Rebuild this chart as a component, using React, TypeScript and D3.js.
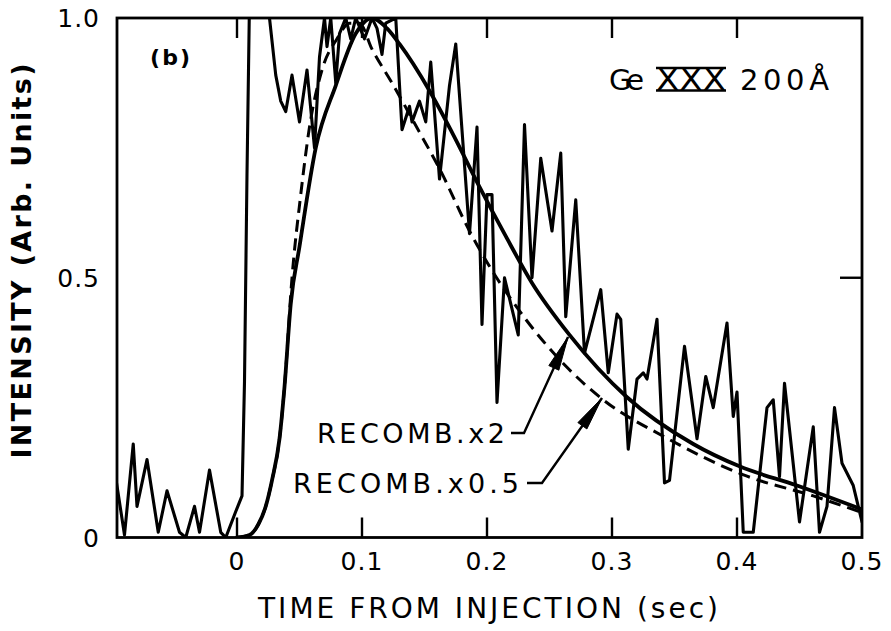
import React from "react";
import * as d3 from "d3";

// ---------- data ----------
const noisyT = [-0.097,-0.09,-0.083,-0.08,-0.072,-0.063,-0.056,-0.046,-0.041,-0.034,-0.03,-0.022,-0.013,-0.009,-0.001,0.004,0.006,0.008,0.011,0.02,0.026,0.031,0.035,0.039,0.044,0.05,0.056,0.062,0.066,0.07,0.072,0.075,0.079,0.082,0.087,0.091,0.095,0.102,0.108,0.112,0.116,0.119,0.127,0.132,0.138,0.14,0.146,0.151,0.155,0.162,0.17,0.175,0.186,0.192,0.196,0.2,0.204,0.208,0.214,0.225,0.23,0.236,0.243,0.252,0.259,0.263,0.271,0.278,0.291,0.297,0.304,0.307,0.313,0.32,0.325,0.328,0.336,0.342,0.346,0.358,0.368,0.375,0.381,0.392,0.397,0.4,0.405,0.413,0.424,0.429,0.434,0.438,0.45,0.461,0.466,0.472,0.478,0.484,0.493,0.5];
const noisyV = [0.115,0.005,0.18,0.06,0.15,0.01,0.09,0.01,0.0,0.06,0.01,0.13,0.01,0.0,0.05,0.08,0.3,0.7,1.2,1.3,1.0,0.89,0.84,0.82,0.89,0.8,0.9,0.75,0.925,1.0,0.945,1.0,0.875,0.97,1.0,0.96,1.0,0.96,1.0,0.98,0.93,0.99,1.0,0.785,0.83,0.8,0.84,0.8,0.915,0.69,0.87,0.95,0.585,0.79,0.41,0.66,0.66,0.26,0.5,0.39,0.795,0.5,0.73,0.59,0.74,0.425,0.65,0.355,0.477,0.317,0.43,0.42,0.17,0.305,0.317,0.305,0.42,0.105,0.11,0.368,0.19,0.31,0.25,0.413,0.233,0.28,0.01,0.01,0.25,0.265,0.117,0.297,0.03,0.213,0.01,0.06,0.25,0.143,0.1,0.03];

const x2T = [0.0,0.01,0.017,0.023,0.028,0.034,0.038,0.043,0.05,0.063,0.079,0.095,0.108,0.12,0.13,0.154,0.172,0.194,0.215,0.236,0.266,0.312,0.365,0.402,0.448,0.5];
const x2V = [0.0,0.005,0.025,0.06,0.11,0.19,0.29,0.45,0.56,0.75,0.87,0.97,1.0,0.98,0.95,0.86,0.78,0.675,0.58,0.49,0.39,0.27,0.18,0.137,0.1,0.054];

const x05T = [0.0,0.01,0.017,0.023,0.028,0.034,0.038,0.044,0.051,0.058,0.068,0.08,0.09,0.098,0.108,0.124,0.146,0.162,0.186,0.2,0.231,0.263,0.293,0.341,0.408,0.461,0.5];
const x05V = [0.0,0.005,0.025,0.06,0.11,0.19,0.29,0.5,0.66,0.79,0.9,0.96,0.99,0.99,0.94,0.875,0.78,0.71,0.59,0.53,0.42,0.33,0.265,0.195,0.118,0.08,0.048];

const xTickVals = [0, 0.1, 0.2, 0.3, 0.4, 0.5];
const xTickLabels = ["0", "0.1", "0.2", "0.3", "0.4", "0.5"];
const yTickVals = [0, 0.5, 1.0];
const yTickLabels = ["0", "0.5", "1.0"];
const bottomInnerTicks = [0, 0.1, 0.2, 0.3, 0.4];
const topInnerTicks = [0, 0.1, 0.2, 0.3, 0.4];
const rightInnerTicks = [0.5];

const annotations = [
  { label: "RECOMB.x2", tipT: 0.2648, tipV: 0.386 },
  { label: "RECOMB.x0.5", tipT: 0.292, tipV: 0.2685 },
];

const FONT = "'DejaVu Sans', 'Liberation Sans', Arial, sans-serif";

export default function App() {
  const W = 891, H = 631;
  const left = 117, right = 862, top = 18, bottom = 537.5;
  const x = d3.scaleLinear().domain([-0.096, 0.5]).range([left, right]);
  const y = d3.scaleLinear().domain([0, 1]).range([bottom, top]);

  const noisy = noisyT.map((t, i) => [t, noisyV[i]] as [number, number]);
  const c2 = x2T.map((t, i) => [t, x2V[i]] as [number, number]);
  const c05 = x05T.map((t, i) => [t, x05V[i]] as [number, number]);

  const linePlain = d3.line<[number, number]>().x(d => x(d[0])).y(d => y(d[1]));
  const lineSmooth = d3.line<[number, number]>().x(d => x(d[0])).y(d => y(d[1])).curve(d3.curveMonotoneX);

  const ann = [
    { textEnd: 505, textStart: 317, baseY: 443, midY: 433, dashFrom: 511, dashTo: 524 },
    { textEnd: 519, textStart: 293, baseY: 493, midY: 483, dashFrom: 527, dashTo: 542 },
  ];

  const arrow = (x0: number, y0: number, x1: number, y1: number) => {
    const dx = x1 - x0, dy = y1 - y0;
    const L = Math.hypot(dx, dy);
    const ux = dx / L, uy = dy / L;
    const hl = 34, hw = 5.5;
    const bx = x1 - ux * hl, by = y1 - uy * hl;
    const px = -uy, py = ux;
    return `M${x1},${y1}L${bx + px * hw},${by + py * hw}L${bx - px * hw},${by - py * hw}Z`;
  };

  return (
    <div style={{ position: "absolute", left: 0, top: 0, width: W, height: H, background: "#fff" }}>
      <svg width={W} height={H} style={{ display: "block" }}>
        <rect x={0} y={0} width={W} height={H} fill="#fff" />
        <defs>
          <clipPath id="plotclip">
            <rect x={left} y={top} width={right - left} height={bottom - top} />
          </clipPath>
        </defs>

        <g clipPath="url(#plotclip)" fill="none" stroke="#000" strokeLinejoin="round" strokeLinecap="round">
          <path d={linePlain(noisy) || ""} strokeWidth={3.1} />
          <path d={lineSmooth(c2) || ""} strokeWidth={3.8} />
          <path d={lineSmooth(c05) || ""} strokeWidth={3} strokeDasharray="12 7" strokeLinecap="butt" />
        </g>

        <rect x={left} y={top} width={right - left} height={bottom - top} fill="none" stroke="#000" strokeWidth={2.8} />

        <g stroke="#000" strokeWidth={2.4}>
          {bottomInnerTicks.map(t => (
            <line key={"b" + t} x1={x(t)} x2={x(t)} y1={bottom} y2={bottom - 20} />
          ))}
          {topInnerTicks.map(t => (
            <line key={"t" + t} x1={x(t)} x2={x(t)} y1={top} y2={top + 20} />
          ))}
          {rightInnerTicks.map(v => (
            <line key={"r" + v} x1={right} x2={right - 22} y1={y(v)} y2={y(v)} />
          ))}
        </g>

        <g fontFamily={FONT} fontSize={25} fill="#000">
          {xTickVals.map((t, i) => (
            <text key={"xl" + t} x={x(t)} y={570} textAnchor="middle" letterSpacing={1}>
              {xTickLabels[i]}
            </text>
          ))}
          {yTickVals.map((v, i) => (
            <text key={"yl" + v} x={100} y={y(v) + 9} textAnchor="end" letterSpacing={1}>
              {yTickLabels[i]}
            </text>
          ))}
        </g>

        <text x={488} y={618} textAnchor="middle" fontFamily={FONT} fontSize={28}
          textLength={460} lengthAdjust="spacing">TIME FROM INJECTION (sec)</text>
        <text transform={`translate(31,261) rotate(-90)`} textAnchor="middle" fontFamily={FONT} fontSize={27}
          fontWeight="bold" textLength={395} lengthAdjust="spacing">INTENSITY (Arb. Units)</text>

        <text x={150} y={65} fontFamily={FONT} fontSize={22} fontWeight="bold" textLength={40} lengthAdjust="spacing">(b)</text>

        <g fontFamily={FONT} fontSize={29} fill="#000">
          <text x={609} y={90} textLength={35} lengthAdjust="spacing">Ge</text>
          <text x={656} y={90} textLength={70} lengthAdjust="spacingAndGlyphs" fontSize={30}>XXX</text>
          <line x1={656} x2={726} y1={68} y2={68} stroke="#000" strokeWidth={2.5} />
          <line x1={656} x2={726} y1={90.5} y2={90.5} stroke="#000" strokeWidth={2.5} />
          <text x={740} y={90} textLength={89} lengthAdjust="spacing">200Å</text>
        </g>

        {annotations.map((a, i) => {
          const g = ann[i];
          const tx = x(a.tipT), ty = y(a.tipV);
          return (
            <g key={a.label}>
              <text x={g.textStart} y={g.baseY} fontFamily={FONT} fontSize={27}
                textLength={g.textEnd - g.textStart} lengthAdjust="spacing">{a.label}</text>
              <path d={`M${g.dashFrom},${g.midY}L${g.dashTo},${g.midY}L${tx},${ty}`} fill="none" stroke="#000" strokeWidth={2.4} />
              <path d={arrow(g.dashTo, g.midY, tx, ty)} fill="#000" stroke="#000" strokeWidth={1} />
            </g>
          );
        })}
      </svg>
    </div>
  );
}
